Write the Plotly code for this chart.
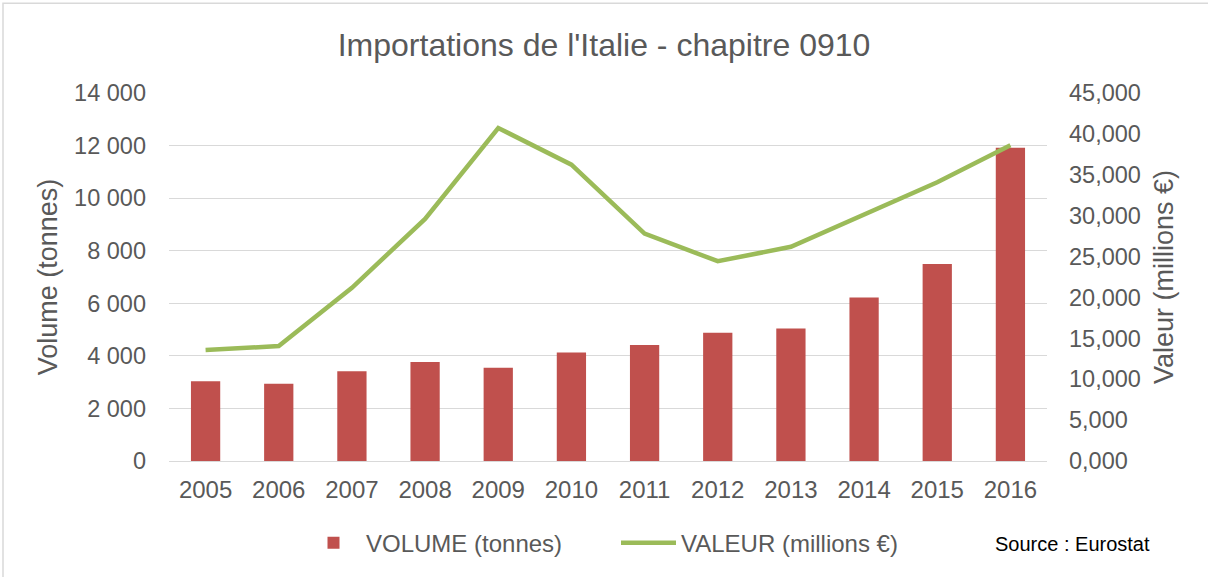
import plotly.graph_objects as go

years = ["2005", "2006", "2007", "2008", "2009", "2010", "2011", "2012", "2013", "2014", "2015", "2016"]
volume_tonnes = [3030, 2940, 3410, 3765, 3550, 4130, 4410, 4880, 5045, 6220, 7490, 11920]
valeur_millions = [13.56, 14.05, 21.18, 29.61, 40.72, 36.24, 27.81, 24.43, 26.19, 30.13, 34.08, 38.60]

left_ticks = [0, 2000, 4000, 6000, 8000, 10000, 12000, 14000]
right_ticks = [0, 5, 10, 15, 20, 25, 30, 35, 40, 45]

FONT = "Liberation Sans, Arial, sans-serif"
GREY = "#595959"
GRID = "#d9d9d9"

fig = go.Figure()
fig.add_trace(go.Bar(
    x=years, y=volume_tonnes, name="VOLUME (tonnes)",
    marker=dict(color="#C0504D", line=dict(width=0)),
    width=0.4, yaxis="y",
))
fig.add_trace(go.Scatter(
    x=years, y=valeur_millions, name="VALEUR (millions €)",
    mode="lines", line=dict(color="#9BBB59", width=4.5),
    yaxis="y2",
))

fig.update_layout(
    width=1208, height=577,
    margin=dict(l=169, r=161, t=93, b=115),
    paper_bgcolor="white", plot_bgcolor="white",
    separators=", ",
    font=dict(family=FONT, color=GREY, size=23),
    title=dict(text="Importations de l'Italie - chapitre 0910", x=0.5, xanchor="center",
               y=0.922, yanchor="middle", font=dict(size=32, color=GREY)),
    xaxis=dict(showgrid=False, showline=False, ticks="", ticklabelstandoff=12,
               tickfont=dict(size=24, color=GREY)),
    yaxis=dict(range=[0, 14000], tickvals=left_ticks, tickformat=",d",
               showgrid=True, gridcolor=GRID, gridwidth=1.2,
               zeroline=True, zerolinecolor=GRID, zerolinewidth=1.2,
               ticklabelstandoff=22, tickfont=dict(size=23.5, color=GREY),
               title=dict(text="Volume (tonnes)", font=dict(size=27, color=GREY), standoff=8)),
    yaxis2=dict(range=[0, 45], tickvals=right_ticks, tickformat=".3f",
                overlaying="y", side="right", showgrid=False, zeroline=False,
                ticklabelstandoff=21, tickfont=dict(size=23.5, color=GREY),
                title=dict(text="Valeur (millions €)", font=dict(size=27, color=GREY), standoff=14)),
    legend=dict(orientation="h", x=0.5 + 8 / 878, xanchor="center", y=-0.22, yanchor="middle",
                font=dict(size=24, color=GREY), itemwidth=55, entrywidth=245,
                traceorder="normal"),
    showlegend=True,
    bargap=0.6,
)

fig.add_annotation(text="Source : Eurostat", xref="paper", yref="paper",
                   x=(1072 - 169) / 878, y=-(545 - 462) / 369, xanchor="center", yanchor="middle",
                   showarrow=False, font=dict(size=20, color="#000000"))

# chart border
fig.add_shape(type="rect", xref="paper", yref="paper",
              x0=(3 - 169) / 878, x1=(1212 - 169) / 878,
              y0=(577 - 580 - 115) / 369, y1=(577 - 3 - 115) / 369,
              line=dict(color="#d9d9d9", width=1.5), fillcolor="rgba(0,0,0,0)", layer="below")

fig.write_html("out.html", config={"displayModeBar": False},
               post_script="document.body.style.margin='0';document.body.style.overflow='hidden';")
